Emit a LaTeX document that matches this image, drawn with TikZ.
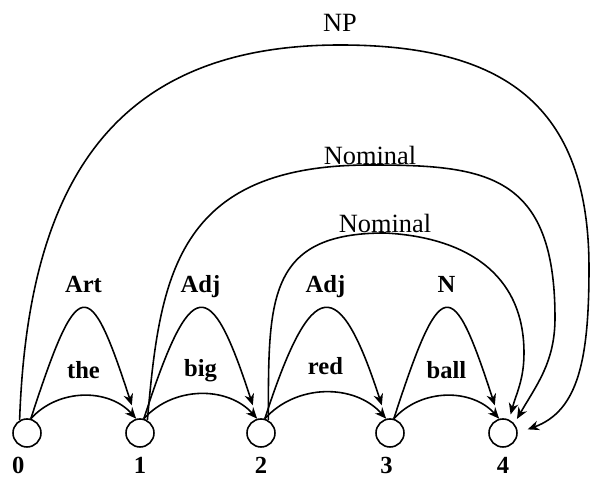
\documentclass[tikz,border=0pt]{standalone}
\usepackage{fontspec}
\setmainfont{Liberation Serif}
\usepackage{tikz}
\usetikzlibrary{arrows.meta,positioning}
\tikzset{
  state/.style={draw, circle, minimum size=0.56cm, inner sep=0pt, line width=0.9pt},
  word/.style={font=\fontsize{14}{16}\selectfont\bfseries, text depth=0pt, inner sep=2pt},
  phrase/.style={font=\fontsize{15}{18}\selectfont, inner sep=2pt},
  link/.style={line width=0.9pt, -{Stealth[length=6.5pt,width=5.5pt]}},
}

\begin{document}
\begin{tikzpicture}
    \useasboundingbox (0,0) rectangle (11.82,9.56);
    % States
    \node[state] (n0) at (0.54,0.9) {};
    \node[state] (n1) at (2.8,0.9) {};
    \node[state] (n2) at (5.22,0.9) {};
    \node[state] (n3) at (7.8,0.9) {};
    \node[state] (n4) at (10.06,0.9) {};
    \node[word, below=3pt of n0, xshift=-5pt] (k0) {0};
    \node[word, below=3pt of n1] (k1) {1};
    \node[word, below=3pt of n2] (k2) {2};
    \node[word, below=3pt of n3, xshift=-2pt] (k3) {3};
    \node[word, below=3.5pt of n4] (k4) {4};
    % Words
    \draw[link] (n0.75) to[out=48,in=132] node[word, above=7.5pt] (the) {the} (n1.105);
    \draw[link] (n1.75) to[out=48,in=132] node[word, above=7.5pt] (big) {big} (n2.105);
    \draw[link] (n2.75) to[out=48,in=132] node[word, above=7.5pt] (red) {red} (n3.105);
    \draw[link] (n3.75) to[out=48,in=132] node[word, above=7.5pt] (ball) {ball} (n4.105);
    % Categories
    \draw[link, shorten >=8pt] (n0.75) to[out=72,in=108,distance=3.05cm] node[word, above=7.5pt] (art) {Art} (n1.105);
    \draw[link, shorten >=8pt] (n1.75) to[out=72,in=108,distance=3.05cm] node[word, above=7.5pt] (adja) {Adj} (n2.105);
    \draw[link, shorten >=8pt] (n2.75) to[out=72,in=108,distance=3.05cm] node[word, above=7.5pt] (adjb) {Adj} (n3.105);
    \draw[link, shorten >=8pt] (n3.75) to[out=72,in=108,distance=3.05cm] node[word, above=7.5pt] (noun) {N} (n4.105);
    % Nominal (inner)
    \draw[link, shorten >=3pt] (n2.60) to[out=90,in=180,out distance=2.4cm,in distance=2.37cm] (7.7,4.9)
        node[phrase, anchor=base] (nomb) {Nominal}
        to[out=-3,in=90,distance=1.6cm] (10.48,2.5) to[out=-90,in=75] (n4.65);
    % Nominal (outer)
    \draw[link, shorten >=3pt] (n1.60) to[out=85,in=180,out distance=2.85cm,in distance=3.9cm] (7.4,6.26)
        node[phrase, anchor=base] (noma) {Nominal}
        to[out=0,in=90,out distance=2.3cm,in distance=2.9cm] (11.1,3.2) to[out=-90,in=60] (n4.40);
    % NP
    \draw[link, shorten >=6pt] (n0.120) to[out=88,in=180,looseness=1.2] (6.8,8.66)
        node[phrase, above=5pt] (np) {NP}
        to[out=0,in=90,looseness=1.25] (11.78,4.2)
        to[out=-90,in=20,out distance=1.8cm,in distance=1.3cm] (n4.east);
\end{tikzpicture}
\end{document}
